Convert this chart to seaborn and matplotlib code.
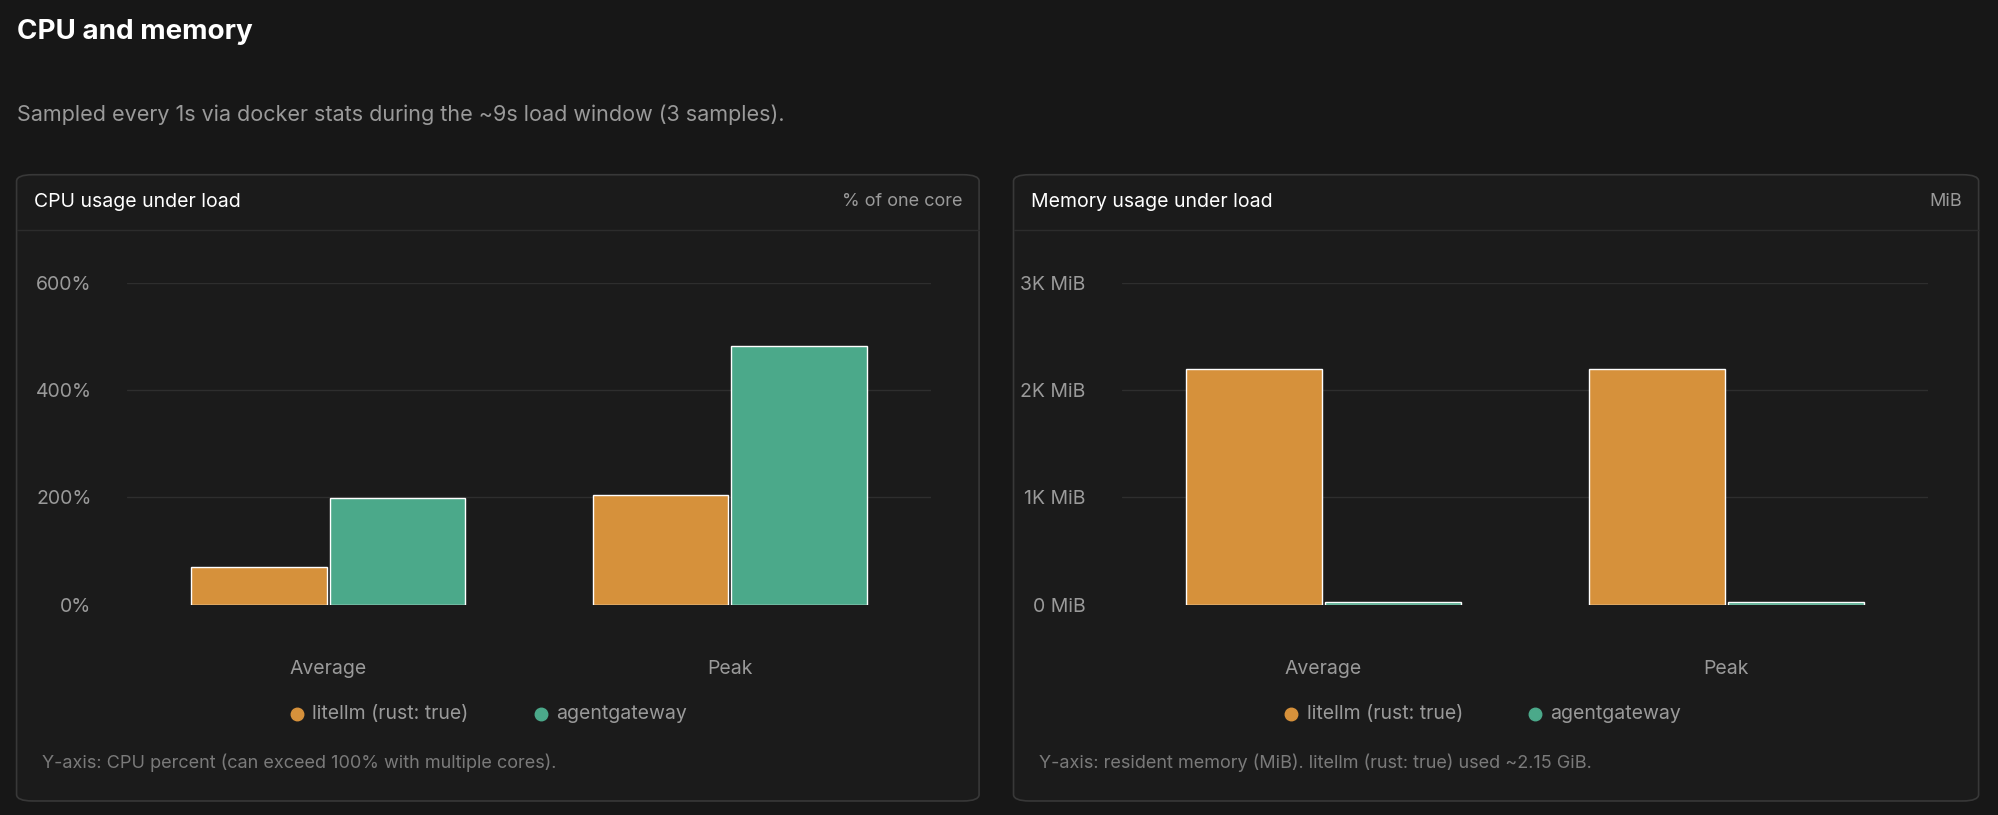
import matplotlib.pyplot as plt
import seaborn as sns
import pandas as pd
from matplotlib.patches import FancyBboxPatch
from matplotlib.lines import Line2D

plt.switch_backend('Agg')
sns.set_theme(style="dark")
plt.rcParams['font.family'] = ['Inter', 'DejaVu Sans']

# datos
categorias = ["Average", "Peak"]
series = ["litellm (rust: true)", "agentgateway"]
cpu_litellm = [70, 205]
cpu_agent = [198, 482]
mem_litellm = [2200, 2200]
mem_agent = [20, 25]
cpu_ticks = [0, 200, 400, 600]
cpu_tick_labels = ["0%", "200%", "400%", "600%"]
mem_ticks = [0, 1000, 2000, 3000]
mem_tick_labels = ["0 MiB", "1K MiB", "2K MiB", "3K MiB"]

COLORS = ["#D6913B", "#4BA98A"]
BG = "#171717"
PANEL = "#1b1b1b"
BORDER = "#383838"
MUTED = "#9a9a9a"

W, H = 1568, 639  # coordenadas de la referencia


def fx(x):
    return x / W


def fy(y):
    return 1 - y / H


fig = plt.figure(figsize=(19.99, 8.15), dpi=100)
fig.patch.set_facecolor(BG)

fig.text(fx(13), fy(25), "CPU and memory", color="white", fontsize=20,
         fontweight="bold", va="center")
fig.text(fx(13), fy(90), "Sampled every 1s via docker stats during the ~9s load window (3 samples).",
         color=MUTED, fontsize=15.5, va="center")


def panel(x0, x1, title, unit, footnote, ax_x0, ax_x1, litellm, agent, ticks, labels, ymax):
    box = FancyBboxPatch((fx(x0), fy(628)), fx(x1 - x0), fy(137) - fy(628),
                         boxstyle="round,pad=0,rounding_size=0.008",
                         transform=fig.transFigure, facecolor=PANEL,
                         edgecolor=BORDER, linewidth=1.2, zorder=-10)
    fig.patches.append(box)
    fig.add_artist(Line2D([fx(x0), fx(x1)], [fy(180), fy(180)], color="#2c2c2c",
                          linewidth=1, transform=fig.transFigure, zorder=-5))
    fig.text(fx(x0 + 14), fy(158), title, color="white", fontsize=14, va="center")
    fig.text(fx(x1 - 13), fy(158), unit, color=MUTED, fontsize=13, va="center", ha="right")
    fig.text(fx(x0 + 20), fy(598), footnote, color="#7a7a7a", fontsize=13, va="center")

    ax = fig.add_axes([fx(ax_x0), fy(474), fx(ax_x1 - ax_x0), fy(222) - fy(474)])
    ax.set_zorder(5)
    ax.patch.set_alpha(0)
    df = pd.DataFrame({
        "cat": categorias * 2,
        "serie": [series[0]] * 2 + [series[1]] * 2,
        "val": litellm + agent,
    })
    sns.barplot(data=df, x="cat", y="val", hue="serie", palette=COLORS, ax=ax,
                width=0.69, gap=0.02, legend=False, saturation=1)
    ax.set_xlim(-0.5, 1.5)
    ax.set_ylim(0, ymax)
    ax.set_yticks(ticks)
    ax.set_yticklabels(labels)
    for t in ticks[1:]:
        ax.axhline(t, color="#2e2e2e", linewidth=1, zorder=0)
    ax.set_xlabel("")
    ax.set_ylabel("")
    ax.grid(False)
    for s in ax.spines.values():
        s.set_visible(False)
    ax.tick_params(axis="y", colors=MUTED, labelsize=14, length=0, pad=26)
    ax.tick_params(axis="x", colors=MUTED, labelsize=14, length=0, pad=40)

    # leyenda
    lx = ax_x0 + 133
    fig.add_artist(Line2D([fx(lx)], [fy(560)], marker="o", markersize=9, color=COLORS[0],
                          linestyle="", transform=fig.transFigure))
    fig.text(fx(lx + 12), fy(560), series[0], color=MUTED, fontsize=14, va="center")
    lx2 = lx + 191
    fig.add_artist(Line2D([fx(lx2)], [fy(560)], marker="o", markersize=9, color=COLORS[1],
                          linestyle="", transform=fig.transFigure))
    fig.text(fx(lx2 + 12), fy(560), series[1], color=MUTED, fontsize=14, va="center")


panel(13, 768, "CPU usage under load", "% of one core",
      "Y-axis: CPU percent (can exceed 100% with multiple cores).",
      100, 730, cpu_litellm, cpu_agent, cpu_ticks, cpu_tick_labels, 600)
panel(795, 1552, "Memory usage under load", "MiB",
      "Y-axis: resident memory (MiB). litellm (rust: true) used ~2.15 GiB.",
      880, 1512, mem_litellm, mem_agent, mem_ticks, mem_tick_labels, 3000)

fig.savefig("out.png", dpi=100, facecolor=BG)
